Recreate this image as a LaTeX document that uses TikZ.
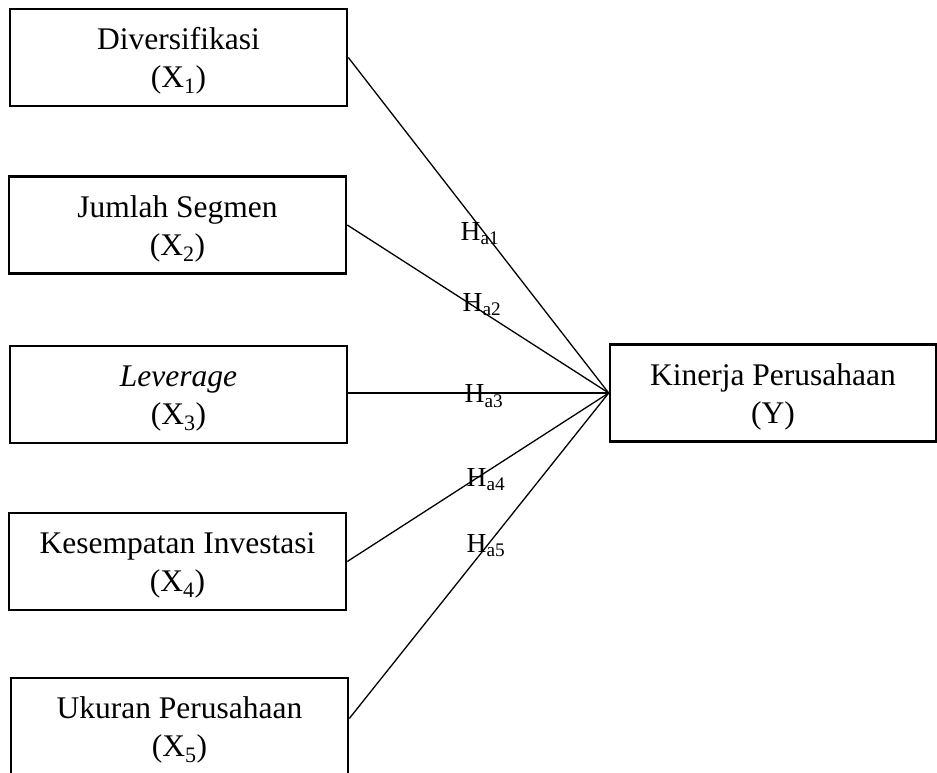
\documentclass[tikz,border=0pt]{standalone}
\usepackage{fontspec}
\setmainfont{Liberation Serif}
\newcommand{\topstrut}{\rule{0pt}{29.5pt}}
\begin{document}
\begin{tikzpicture}[x=1pt,y=-1pt,
  box/.style={draw, line width=2.6pt, minimum width=337pt, minimum height=97pt,
    inner sep=0pt, align=center, font=\fontsize{31.5}{38}\selectfont},
  link/.style={line width=1.3pt},
  hyp/.style={inner sep=0pt, font=\fontsize{27.5}{33}\selectfont}]
\useasboundingbox (0,0) rectangle (937,773);
\node[box] (x1) at (178.5,57.5) {\topstrut Diversifikasi\\(X\textsubscript{1})};
\node[box] (x2) at (177.5,225) {\topstrut Jumlah Segmen\\(X\textsubscript{2})};
\node[box] (x3) at (178.5,394.5) {\topstrut\textit{Leverage}\\(X\textsubscript{3})};
\node[box] (x4) at (177.5,561.5) {\topstrut Kesempatan Investasi\\(X\textsubscript{4})};
\node[box] (x5) at (179.5,726.5) {\topstrut Ukuran Perusahaan\\(X\textsubscript{5})};
\node[box, minimum width=326pt] (y) at (773,393) {\topstrut Kinerja Perusahaan\\(Y)};
\draw[link] (x1.east) -- (y.west);
\draw[link] (x2.east) -- (y.west);
\draw[link] (x3.east |- y.west) -- (y.west);
\draw[link] (x4.east) -- (y.west);
\draw[link] ([yshift=8pt]x5.east) -- (y.west);
\node[hyp] (h1) at (480,234) {H\textsubscript{a1}};
\node[hyp] (h2) at (482,305) {H\textsubscript{a2}};
\node[hyp] (h3) at (484,396) {H\textsubscript{a3}};
\node[hyp] (h4) at (486,480) {H\textsubscript{a4}};
\node[hyp] (h5) at (486,546) {H\textsubscript{a5}};
\end{tikzpicture}
\end{document}
